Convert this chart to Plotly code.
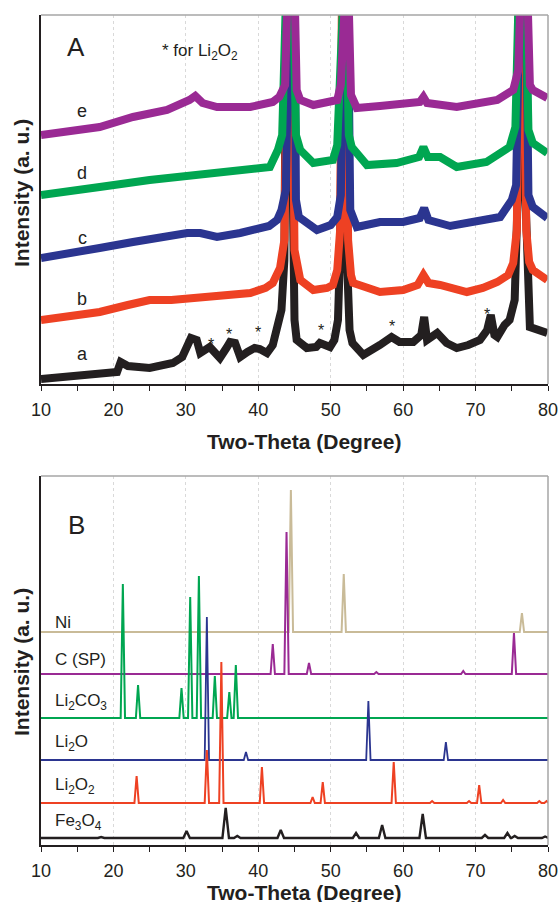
import plotly.graph_objects as go

# ---------------- Panel A : measured XRD patterns (intensity, a.u.) ----------------
two_theta_a = [10, 13.6, 18.1, 20.5, 21.0, 22.0, 25.0, 28.2, 29.5, 30.2, 30.7, 31.5, 32.0, 33.3, 34.0, 34.7,
               35.6, 36.1, 36.8, 37.5, 38.5, 39.5, 40.2, 41.2, 42.0, 42.6, 43.2, 43.6, 43.8, 44.5, 44.8, 45.0,
               45.3, 46.7, 48.0, 48.5, 49.9, 50.5, 51.0, 51.3, 51.6, 51.9, 52.2, 52.6, 53.0, 54.5, 56.8, 58.4,
               59.5, 61.4, 62.5, 62.9, 63.3, 64.7, 66.0, 67.4, 69.0, 70.6, 71.6, 72.1, 72.6, 73.0, 74.0, 74.7,
               75.4, 75.8, 76.0, 76.5, 76.9, 77.2, 77.5, 79.9]
int_a = [5, 7, 11, 12, 22, 18, 16, 21, 27, 40, 46, 44, 31, 37, 32, 26,
         36, 42, 41, 27, 32, 36, 35, 31, 39, 54, 74, 124, 341, 341, 134, 64,
         44, 36, 37, 41, 37, 44, 64, 134, 352, 352, 134, 54, 41, 29, 39, 47,
         42, 42, 49, 67, 44, 51, 41, 36, 39, 44, 54, 69, 49, 47, 59, 64,
         84, 184, 434, 434, 184, 74, 57, 51]

two_theta_b = [10, 14, 18.1, 22, 25, 28, 32, 36, 38.9, 41, 42, 43.0, 43.6, 44.1, 44.6, 45.0, 45.4, 45.8,
               47.6, 49.5, 50.3, 50.9, 51.3, 51.6, 52.0, 52.4, 52.8, 53.1, 56.8, 60, 62.0, 62.8, 63.5,
               65.1, 68.8, 71.0, 73.0, 74.5, 75.2, 75.7, 76.0, 76.6, 77.0, 77.4, 77.9, 79.9]
int_b = [64, 67, 72, 79, 84, 84, 86, 88, 91, 96, 101, 116, 144, 434, 434, 134, 112, 104,
         94, 96, 99, 114, 154, 434, 434, 144, 109, 101, 92, 94, 99, 109, 101,
         99, 92, 96, 102, 109, 121, 154, 434, 434, 154, 122, 114, 104]

two_theta_c = [10, 14, 18.1, 22.7, 26, 30.2, 32, 34.3, 37.5, 39, 41.5, 42.6, 43.2, 43.8, 44.4, 45.0, 45.2,
               45.6, 48.1, 50.0, 50.9, 51.4, 51.8, 52.3, 52.7, 53.6, 56.8, 60, 62.3, 62.9, 63.5, 66.5,
               70.6, 73.4, 75.0, 75.6, 76.2, 76.9, 77.3, 77.9, 79.9]
int_c = [126, 130, 136, 142, 146, 151, 151, 147, 151, 154, 158, 164, 174, 194, 434, 434, 184,
         167, 154, 159, 167, 189, 434, 434, 174, 157, 162, 162, 166, 176, 164, 158,
         164, 167, 184, 199, 434, 434, 189, 177, 166]

two_theta_d = [10, 14, 18.1, 25, 32, 38.9, 41.6, 42.7, 43.3, 44.0, 44.7, 45.2, 45.8, 47.6, 50.3, 50.9,
               51.5, 52.0, 52.5, 52.9, 55, 59.1, 62.2, 62.8, 63.4, 65.1, 67.4, 71.5, 74.7, 75.5, 76.1,
               76.8, 77.3, 77.9, 79.9]
int_d = [189, 192, 197, 204, 209, 214, 217, 234, 249, 434, 434, 249, 234, 221, 224, 239,
         434, 434, 249, 237, 219, 221, 227, 237, 227, 227, 217, 222, 237, 257, 434,
         434, 254, 241, 231]

two_theta_e = [10, 14, 18.1, 22.7, 27.4, 30.5, 31.3, 32.3, 34.3, 38.9, 42.0, 42.9, 43.7, 44.2, 44.9, 45.3,
               45.8, 47.6, 50.9, 51.4, 51.7, 52.3, 52.8, 53.6, 56.8, 60, 62.3, 62.8, 63.3, 67.4, 73,
               75.2, 75.9, 76.4, 77.0, 77.5, 77.9, 79.9]
int_e = [249, 252, 257, 267, 274, 284, 288, 281, 277, 277, 282, 287, 299, 434, 434, 294,
         284, 279, 284, 299, 434, 434, 289, 276, 278, 280, 282, 287, 281, 277, 284,
         294, 314, 434, 434, 299, 294, 286]

sample_labels = ["a", "b", "c", "d", "e"]
li2o2_marks_2theta = [33.5, 36.0, 40.0, 48.7, 58.5, 71.6]
li2o2_marks_int = [44, 54, 56, 58, 62, 74]

# ---------------- Panel B : reference patterns (peak position, relative height) ----------------
ni_pos = [44.5, 51.8, 76.4]
ni_h = [142, 58, 19]
c_pos = [42.0, 43.9, 47.0, 56.3, 68.3, 75.3]
c_h = [30, 142, 11, 2, 3, 41]
li2co3_pos = [21.3, 23.4, 29.4, 30.6, 31.8, 34.0, 36.0, 36.9]
li2co3_h = [134, 33, 30, 121, 142, 42, 26, 53]
li2o_pos = [32.9, 38.3, 55.2, 65.9]
li2o_h = [143, 8, 59, 18]
li2o2_pos = [23.2, 32.9, 34.9, 40.5, 47.5, 48.9, 58.7, 64.0, 69.1, 70.5, 73.8, 78.8, 79.8]
li2o2_h = [27, 53, 141, 36, 6, 21, 41, 2, 2, 18, 3, 2, 2]
fe3o4_pos = [18.3, 30.1, 35.5, 37.1, 43.1, 53.5, 57.1, 62.7, 71.3, 74.4, 75.4, 79.6]
fe3o4_h = [1, 7, 30, 2, 8, 5, 13, 24, 3, 5, 2, 1.5]
ref_names = ["Ni", "C (SP)", "Li<sub>2</sub>CO<sub>3</sub>", "Li<sub>2</sub>O",
             "Li<sub>2</sub>O<sub>2</sub>", "Fe<sub>3</sub>O<sub>4</sub>"]
tick_vals = [10, 20, 30, 40, 50, 60, 70, 80]

# ---------------- styling / layout ----------------
W, H = 560, 902
FONT = "Liberation Sans, Arial, sans-serif"
TXT = "#231f20"
colA = {"a": "#231f20", "b": "#ee4123", "c": "#2b3590", "d": "#00a651", "e": "#9a2a94"}
ref_style = [  # (offset, color, half width, line width)
    (213, "#c9bb98", 0.30, 2.0),
    (171, "#9a2a94", 0.30, 2.0),
    (127, "#00a651", 0.30, 2.0),
    (85, "#2b3590", 0.30, 1.8),
    (42, "#ee4123", 0.30, 2.0),
    (7, "#231f20", 0.45, 2.4),
]

def px_x(p):
    return p / W

def px_y(p):
    return 1 - p / H

fig = go.Figure()

seriesA = [("a", two_theta_a, int_a), ("b", two_theta_b, int_b), ("c", two_theta_c, int_c),
           ("d", two_theta_d, int_d), ("e", two_theta_e, int_e)]
for key, xs, ys in seriesA:
    fig.add_trace(go.Scatter(x=xs, y=ys, mode="lines", xaxis="x", yaxis="y",
                             line=dict(color=colA[key], width=8), showlegend=False, hoverinfo="skip"))

ref_data = [(ni_pos, ni_h), (c_pos, c_h), (li2co3_pos, li2co3_h), (li2o_pos, li2o_h),
            (li2o2_pos, li2o2_h), (fe3o4_pos, fe3o4_h)]
for (pos, hts), (off, col, hw, lw) in zip(ref_data, ref_style):
    xs, ys = [10], [off]
    for p, h in sorted(zip(pos, hts)):
        xs += [p - hw, p, p + hw]
        ys += [off, off + h, off]
    xs.append(80)
    ys.append(off)
    fig.add_trace(go.Scatter(x=xs, y=ys, mode="lines", xaxis="x2", yaxis="y2",
                             line=dict(color=col, width=lw), showlegend=False, hoverinfo="skip"))

xdom = [px_x(41), px_x(548)]
xcommon = dict(range=[10, 80], tickvals=tick_vals, ticks="outside", ticklen=5, tickwidth=1.2,
               tickcolor=TXT, showline=True, linecolor=TXT, linewidth=1.5, mirror=False,
               showgrid=True, gridcolor="#d9d9d9", griddash="dot", gridwidth=1, zeroline=False,
               tickfont=dict(family=FONT, size=18, color=TXT), automargin=False, ticklabelstandoff=4,
               minor=dict(dtick=5, ticks="outside", ticklen=5, tickwidth=1.2, tickcolor=TXT, showgrid=False))
ycommon = dict(range=[0, 369], showticklabels=False, ticks="", showline=True, linecolor=TXT,
               linewidth=1.5, showgrid=False, zeroline=False, automargin=False)

fig.update_layout(
    width=W, height=H, margin=dict(l=0, r=0, t=0, b=0),
    paper_bgcolor="white", plot_bgcolor="white", template="none", showlegend=False,
    xaxis=dict(domain=xdom, anchor="y", **xcommon),
    yaxis=dict(domain=[px_y(384), px_y(15)], anchor="x", **ycommon),
    xaxis2=dict(domain=xdom, anchor="y2", **xcommon),
    yaxis2=dict(domain=[px_y(845), px_y(476)], anchor="x2", **ycommon),
)

shapes = []
for xa, ya in [("x", "y"), ("x2", "y2")]:
    shapes.append(dict(type="line", xref=xa + " domain", yref=ya + " domain", x0=0, x1=1, y0=1, y1=1,
                       line=dict(color="#a6a6a6", width=1.5)))
    shapes.append(dict(type="line", xref=xa + " domain", yref=ya + " domain", x0=1, x1=1, y0=0, y1=1,
                       line=dict(color="#a6a6a6", width=1.5)))
fig.update_layout(shapes=shapes)

ann = []
def t(text, x, y, size, xanchor="center", yanchor="middle", angle=0, xref="paper", yref="paper"):
    ann.append(dict(text=text, x=x, y=y, xref=xref, yref=yref, showarrow=False, xanchor=xanchor,
                    yanchor=yanchor, textangle=angle, font=dict(family=FONT, size=size, color=TXT)))

# axis titles
t("<b>Two-Theta (Degree)</b>", px_x(304), px_y(441), 21)
t("<b>Two-Theta (Degree)</b>", px_x(304), px_y(892), 21)
t("<b>Intensity (a. u.)</b>", px_x(21), px_y(193), 21, angle=-90)
t("<b>Intensity (a. u.)</b>", px_x(21), px_y(662), 21, angle=-90)

# panel labels
t("A", px_x(76), px_y(47), 26)
t("B", px_x(76), px_y(525), 26)
t("* for Li<sub>2</sub>O<sub>2</sub>", px_x(160), px_y(52), 17, xanchor="left")

for lab, py in zip(sample_labels, [354, 299, 238, 173, 111]):
    t(lab, px_x(82), px_y(py), 18)
for x, y in zip(li2o2_marks_2theta, li2o2_marks_int):
    t("*", x, y - 4, 16, xref="x", yref="y")

for name, py in zip(ref_names, [622, 659, 702, 743, 786, 822]):
    t(name, px_x(53), px_y(py), 17, xanchor="left")

fig.update_layout(annotations=ann)
fig.write_html("out.html", config={"displayModeBar": False},
               post_script="document.body.style.margin='0';document.body.style.overflow='hidden';")
